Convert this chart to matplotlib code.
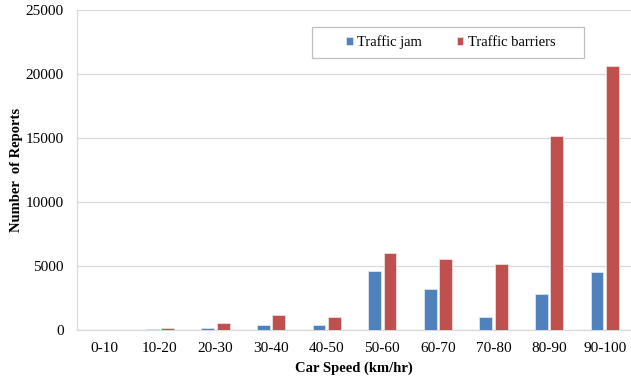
import matplotlib
matplotlib.use("Agg")
import matplotlib.pyplot as plt
from matplotlib.patches import Rectangle
import numpy as np

categories = ["0-10", "10-20", "20-30", "30-40", "40-50", "50-60",
              "60-70", "70-80", "80-90", "90-100"]
traffic_jam = [0, 100, 150, 390, 390, 4630, 3200, 1040, 2790, 4560]
traffic_barriers = [0, 180, 520, 1150, 990, 5990, 5520, 5130, 15160, 20650]
y_ticks = [0, 5000, 10000, 15000, 20000, 25000]

plt.rcParams["font.family"] = ["Liberation Serif", "DejaVu Serif"]

W, H = 631, 382
fig = plt.figure(figsize=(W / 100, H / 100), dpi=100)
left, right, top, bottom = 76.5, 632.5, 10, 330
ax = fig.add_axes([left / W, 1 - bottom / H, (right - left) / W, (bottom - top) / H])

x = np.arange(len(categories))
w = 0.23
off = 0.14
ax.bar(x - off, traffic_jam, width=w, color="#4F81BD",
       edgecolor="#dce6f2", linewidth=0.6, label="Traffic jam", zorder=3)
ax.bar(x + off, traffic_barriers, width=w, color="#C0504D",
       edgecolor="#f2dcdb", linewidth=0.6, label="Traffic barriers", zorder=3)

ax.set_xlim(-0.5, len(categories) - 0.5)
ax.set_ylim(0, 25000)
ax.set_yticks(y_ticks)
ax.set_xticks(x)
ax.set_xticklabels(categories)
ax.tick_params(axis="both", length=0, labelsize=11, colors="#000000")
ax.tick_params(axis="x", pad=9)
ax.tick_params(axis="y", pad=9)

ax.grid(axis="y", color="#d9d9d9", linewidth=0.9, zorder=0)
for side in ["top", "right"]:
    ax.spines[side].set_visible(False)
for side in ["left", "bottom"]:
    ax.spines[side].set_color("#d9d9d9")
    ax.spines[side].set_linewidth(0.9)

ax.set_xlabel("Car Speed (km/hr)", fontsize=10.5, fontweight="bold")
ax.xaxis.set_label_coords((353.5 - left) / (right - left), -(368 - bottom) / (bottom - top))
ax.set_ylabel("Number  of Reports", fontsize=10.5, fontweight="bold")
ax.yaxis.set_label_coords((16.5 - left) / (right - left), (bottom - 170) / (bottom - top))
ax.yaxis.label.set_va("center")
ax.xaxis.label.set_va("center")

# legend box
fig.patches.append(Rectangle((312 / W, 1 - 58 / H), (584 - 312) / W, 31 / H,
                             transform=fig.transFigure, facecolor="white",
                             edgecolor="#bfbfbf", linewidth=0.9, zorder=5))
leg = fig.legend(loc="center left", bbox_to_anchor=(346 / W, 1 - 42.5 / H),
                 ncol=2, frameon=False, fontsize=10.5,
                 handlelength=0.45, handleheight=0.45, handletextpad=0.3,
                 columnspacing=2.4, borderpad=0, borderaxespad=0)
leg.set_zorder(6)

fig.savefig("out.png", dpi=100)
